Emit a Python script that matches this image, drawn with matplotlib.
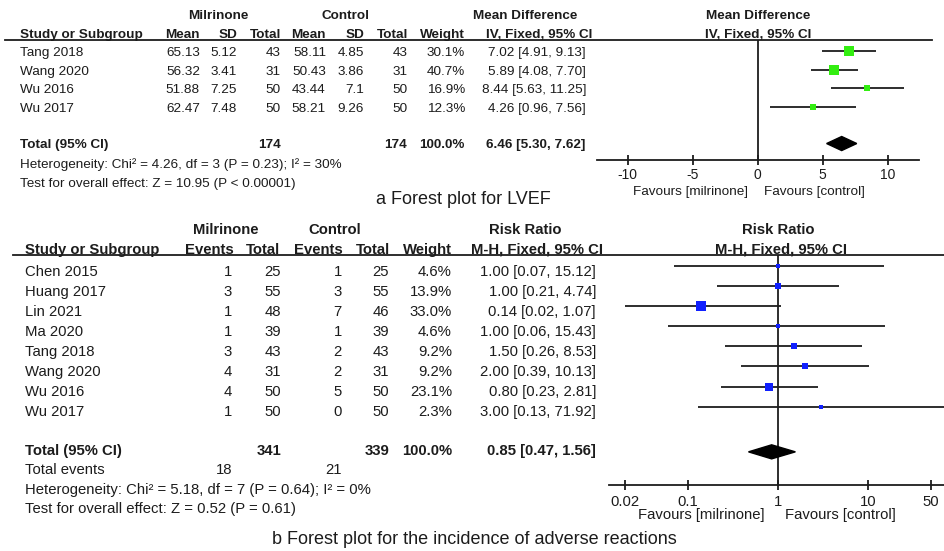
import matplotlib
matplotlib.use("Agg")
import matplotlib.pyplot as plt
import numpy as np
from matplotlib.patches import Polygon

plt.rcParams["font.family"] = ["Liberation Sans", "DejaVu Sans"]

W, H = 944, 551
INK = "#1c1c1c"

# --- a: LVEF, mean difference -------------------------------------------
lvef_studies = ["Tang 2018", "Wang 2020", "Wu 2016", "Wu 2017"]
mil_mean = [65.13, 56.32, 51.88, 62.47]
mil_sd = [5.12, 3.41, 7.25, 7.48]
mil_n = [43, 31, 50, 50]
ctl_mean = [58.11, 50.43, 43.44, 58.21]
ctl_sd = [4.85, 3.86, 7.1, 9.26]
ctl_n = [43, 31, 50, 50]
lvef_weight = [30.1, 40.7, 16.9, 12.3]
lvef_weight_total = 100.0
md = [7.02, 5.89, 8.44, 4.26]
md_lo = [4.91, 4.08, 5.63, 0.96]
md_hi = [9.13, 7.70, 11.25, 7.56]
md_total = [6.46, 5.30, 7.62]
lvef_het = "Heterogeneity: Chi² = 4.26, df = 3 (P = 0.23); I² = 30%"
lvef_test = "Test for overall effect: Z = 10.95 (P < 0.00001)"
md_ticks = [-10, -5, 0, 5, 10]

# --- b: adverse reactions, risk ratio -----------------------------------
ae_studies = ["Chen 2015", "Huang 2017", "Lin 2021", "Ma 2020",
              "Tang 2018", "Wang 2020", "Wu 2016", "Wu 2017"]
mil_events = [1, 3, 1, 1, 3, 4, 4, 1]
mil_total = [25, 55, 48, 39, 43, 31, 50, 50]
ctl_events = [1, 3, 7, 1, 2, 2, 5, 0]
ctl_total = [25, 55, 46, 39, 43, 31, 50, 50]
ae_weight = [4.6, 13.9, 33.0, 4.6, 9.2, 9.2, 23.1, 2.3]
ae_weight_total = 100.0
rr = [1.00, 1.00, 0.14, 1.00, 1.50, 2.00, 0.80, 3.00]
rr_lo = [0.07, 0.21, 0.02, 0.06, 0.26, 0.39, 0.23, 0.13]
rr_hi = [15.12, 4.74, 1.07, 15.43, 8.53, 10.13, 2.81, 71.92]
rr_total = [0.85, 0.47, 1.56]
ae_het = "Heterogeneity: Chi² = 5.18, df = 7 (P = 0.64); I² = 0%"
ae_test = "Test for overall effect: Z = 0.52 (P = 0.61)"
rr_ticks = [0.02, 0.1, 1, 10, 50]
rr_ticklabels = ["0.02", "0.1", "1", "10", "50"]


fig = plt.figure(figsize=(W / 100, H / 100), dpi=100)
bg = fig.add_axes([0, 0, 1, 1])
bg.set_xlim(0, W)
bg.set_ylim(H, 0)
bg.axis("off")


def txt(x, y, s, size, ha="right", bold=False):
    bg.text(x, y, s, ha=ha, va="center", fontsize=size, color=INK,
            fontweight="bold" if bold else "normal")


def px_axes(x0, x1, y0, y1):
    return fig.add_axes([x0 / W, 1 - y1 / H, (x1 - x0) / W, (y1 - y0) / H])


def ci(v, lo, hi):
    return f"{v:.2f} [{lo:.2f}, {hi:.2f}]"


def forest(ax, est, lo, hi, weight, total, color, diamond_row, half_h, pad):
    rows = np.arange(len(est))
    ax.hlines(rows, lo, hi, color=INK, lw=1.3)
    for r, e, w in zip(rows, est, weight):
        # square side grows with sqrt(weight), in points
        side = max(1.65 * np.sqrt(w), 3.4) * 0.72
        ax.plot(e, r, marker="s", ms=side, mew=0, color=color, ls="none", zorder=3)
    e, l, h = total
    ax.add_patch(Polygon([(l, diamond_row), (e, diamond_row - half_h),
                          (h, diamond_row), (e, diamond_row + half_h)],
                         closed=True, color="black", zorder=3))
    ax.set_facecolor("none")
    for side in ["left", "right", "top"]:
        ax.spines[side].set_visible(False)
    ax.spines["bottom"].set_color(INK)
    ax.spines["bottom"].set_linewidth(1.3)
    ax.set_yticks([])
    ax.tick_params(axis="x", direction="inout", length=7, width=1.3,
                   color=INK, labelcolor=INK, pad=pad)
    ax.minorticks_off()


# ----- panel a table -----
fs = 9.7
txt(218, 16, "Milrinone", fs, ha="center", bold=True)
txt(345, 16, "Control", fs, ha="center", bold=True)
txt(525, 16, "Mean Difference", fs, ha="center", bold=True)
txt(757.7, 16, "Mean Difference", fs, ha="center", bold=True)
txt(20, 35, "Study or Subgroup", fs, ha="left", bold=True)
for x, s in zip([200, 237, 281, 326, 364, 408, 465, 592],
                ["Mean", "SD", "Total", "Mean", "SD", "Total", "Weight", "IV, Fixed, 95% CI"]):
    txt(x, 35, s, fs, bold=True)
txt(757.7, 35, "IV, Fixed, 95% CI", fs, ha="center", bold=True)
bg.plot([5, 932], [40, 40], color=INK, lw=1.3)

for i, name in enumerate(lvef_studies):
    y = 53 + 18.6 * i
    txt(20, y, name, fs, ha="left")
    cells = [f"{mil_mean[i]:g}", f"{mil_sd[i]:g}", str(mil_n[i]),
             f"{ctl_mean[i]:g}", f"{ctl_sd[i]:g}", str(ctl_n[i]),
             f"{lvef_weight[i]:.1f}%", ci(md[i], md_lo[i], md_hi[i])]
    for x, s in zip([200, 237, 281, 326, 364, 408, 465, 586], cells):
        txt(x, y, s, fs)

txt(20, 145, "Total (95% CI)", fs, ha="left", bold=True)
txt(281, 145, str(sum(mil_n)), fs, bold=True)
txt(407, 145, str(sum(ctl_n)), fs, bold=True)
txt(465, 145, f"{lvef_weight_total:.1f}%", fs, bold=True)
txt(585, 145, ci(*md_total), fs, bold=True)
txt(20, 165, lvef_het, fs, ha="left")
txt(20, 184, lvef_test, fs, ha="left")

ax_a = px_axes(596.5, 918.9, 40, 160)
forest(ax_a, md, md_lo, md_hi, lvef_weight, md_total, "#33ee11", 5.0, 0.38, 2)
ax_a.axvline(0, color=INK, lw=1.3)
ax_a.set_xlim(-12.4, 12.4)
ax_a.set_ylim(5.89, -0.595)
ax_a.set_xticks(md_ticks)
ax_a.set_xticklabels([str(t) for t in md_ticks], fontsize=10)
txt(748, 192, "Favours [milrinone]", fs)
txt(764, 192, "Favours [control]", fs, ha="left")
txt(463, 200, "a Forest plot for LVEF", 13, ha="center")

# ----- panel b table -----
fs = 10.7
txt(226, 230, "Milrinone", fs, ha="center", bold=True)
txt(335, 230, "Control", fs, ha="center", bold=True)
txt(525, 230, "Risk Ratio", fs, ha="center", bold=True)
txt(778, 230, "Risk Ratio", fs, ha="center", bold=True)
txt(25, 250, "Study or Subgroup", fs, ha="left", bold=True)
for x, s in zip([234, 280, 343, 390, 452, 603],
                ["Events", "Total", "Events", "Total", "Weight", "M-H, Fixed, 95% CI"]):
    txt(x, 250, s, fs, bold=True)
txt(781, 250, "M-H, Fixed, 95% CI", fs, ha="center", bold=True)
bg.plot([13, 944], [255, 255], color=INK, lw=1.3)

for i, name in enumerate(ae_studies):
    y = 272 + 20 * i
    txt(25, y, name, fs, ha="left")
    cells = [str(mil_events[i]), str(mil_total[i]), str(ctl_events[i]),
             str(ctl_total[i]), f"{ae_weight[i]:.1f}%", ci(rr[i], rr_lo[i], rr_hi[i])]
    for x, s in zip([232, 281, 342, 389, 452, 596], cells):
        txt(x, y, s, fs)

txt(25, 451, "Total (95% CI)", fs, ha="left", bold=True)
txt(281, 451, str(sum(mil_total)), fs, bold=True)
txt(389, 451, str(sum(ctl_total)), fs, bold=True)
txt(452, 451, f"{ae_weight_total:.1f}%", fs, bold=True)
txt(596, 451, ci(*rr_total), fs, bold=True)
txt(25, 470, "Total events", fs, ha="left")
txt(232, 470, str(sum(mil_events)), fs)
txt(342, 470, str(sum(ctl_events)), fs)
txt(25, 490, ae_het, fs, ha="left")
txt(25, 509, ae_test, fs, ha="left")

ax_b = px_axes(609.2, 946.8, 255, 485)
ax_b.set_xscale("log")
forest(ax_b, rr, rr_lo, rr_hi, ae_weight, rr_total, "#1020ff", 9.25, 0.35, 4)
ax_b.axvline(1, color=INK, lw=1.3)
ax_b.set_xlim(1 / 75, 75)
ax_b.set_ylim(10.9, -0.547)
ax_b.set_xticks(rr_ticks)
ax_b.set_xticklabels(rr_ticklabels, fontsize=10.7)
ax_b.minorticks_off()
txt(765, 515, "Favours [milrinone]", fs)
txt(785, 515, "Favours [control]", fs, ha="left")
txt(474, 540, "b Forest plot for the incidence of adverse reactions", 13, ha="center")

fig.savefig("out.png", dpi=100)
